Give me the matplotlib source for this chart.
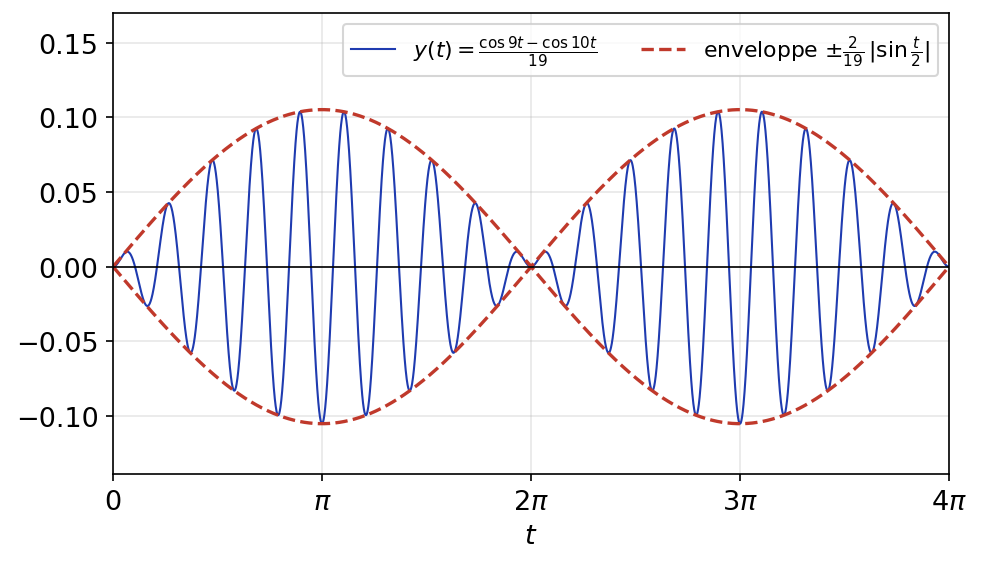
import numpy as np
import matplotlib.pyplot as plt

# curve parameters
FREQ_A = 9
FREQ_B = 10
DENOM = 19
T_MAX = 4 * np.pi
N_POINTS = 4000

TICK_POS = [0, np.pi, 2 * np.pi, 3 * np.pi, 4 * np.pi]
TICK_LABELS = ["$0$", r"$\pi$", r"$2\pi$", r"$3\pi$", r"$4\pi$"]

BLUE = "#1f3bb0"
RED = "#c0392b"


def main():
    t = np.linspace(0, T_MAX, N_POINTS)
    y = (np.cos(FREQ_A * t) - np.cos(FREQ_B * t)) / DENOM
    env = 2 / DENOM * np.abs(np.sin(t / 2))

    fig = plt.figure(figsize=(6.54, 3.793), dpi=150)
    ax = fig.add_axes([0.1152, 0.1652, 0.8522, 0.8102])

    ax.plot(t, y, color=BLUE, linewidth=1.0,
            label=r"$y(t)=\frac{\cos 9t-\cos 10t}{19}$")
    ax.plot(t, env, "--", color=RED, linewidth=1.6,
            label=r"enveloppe $\pm\frac{2}{19}\,|\sin\frac{t}{2}|$")
    ax.plot(t, -env, "--", color=RED, linewidth=1.6)
    ax.axhline(0, color="black", linewidth=0.8)

    ax.set_xlim(0, T_MAX)
    ax.set_ylim(-0.139, 0.170)
    ax.set_xticks(TICK_POS)
    ax.set_xticklabels(TICK_LABELS)
    ax.tick_params(labelsize=13)
    ax.set_xlabel("$t$", fontsize=13)
    ax.grid(True, alpha=0.3)
    ax.legend(loc="upper right", ncol=2, fontsize=10.5)

    fig.savefig("out.png", dpi=150)
    plt.close(fig)


if __name__ == "__main__":
    main()
